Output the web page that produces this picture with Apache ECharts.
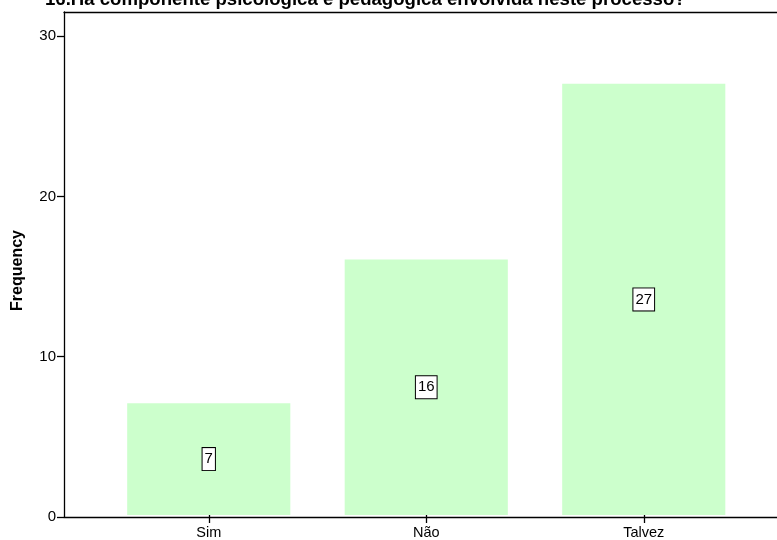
<!DOCTYPE html>
<html>
<head>
<meta charset="utf-8">
<style>
  html, body { margin: 0; padding: 0; background: #fff; }
  #chart { width: 777px; height: 540px; }
</style>
<script src="https://cdn.jsdelivr.net/npm/echarts@6/dist/echarts.min.js"></script>
</head>
<body>
<div id="chart"></div>
<script>
// dados
const categorias = ["Sim", "Não", "Talvez"];
const frequencias = [7, 16, 27];
const yMax = 31.5;

const chart = echarts.init(document.getElementById("chart"));
const fonte = "Arial, 'Liberation Sans', sans-serif";

chart.setOption({
  animation: false,
  title: {
    text: "16.Há componente psicológica e pedagógica envolvida neste processo?",
    left: 40,
    top: -15,
    textStyle: { fontFamily: fonte, fontWeight: "bold", fontSize: 18.6, color: "#000" }
  },
  grid: [
    // moldura / eixos
    { left: 64, top: 12, right: -5, bottom: 23 },
    // barras
    { left: 100, width: 652.5, top: 12, bottom: 23 }
  ],
  xAxis: [
    {
      gridIndex: 0, type: "value", min: 0, max: 1,
      axisLine: { show: true, lineStyle: { color: "#000", width: 1.3 } },
      axisTick: { show: false }, axisLabel: { show: false }, splitLine: { show: false }
    },
    {
      gridIndex: 0, type: "value", min: 0, max: 1, position: "top",
      axisLine: { show: true, lineStyle: { color: "#000", width: 1.3 } },
      axisTick: { show: false }, axisLabel: { show: false }, splitLine: { show: false }
    },
    {
      gridIndex: 1, type: "category", data: categorias,
      axisLine: { show: false },
      axisTick: { show: true, alignWithLabel: true, length: 8, lineStyle: { color: "#000", width: 1.3 } },
      axisLabel: { color: "#000", fontFamily: fonte, fontSize: 14.5, margin: 10 }
    }
  ],
  yAxis: [
    {
      gridIndex: 0, type: "value", min: 0, max: yMax, interval: 10,
      name: "Frequency", nameLocation: "middle", nameGap: 38,
      nameTextStyle: { fontFamily: fonte, fontWeight: "bold", fontSize: 16, color: "#000", padding: [0, 12, 0, 0] },
      axisLine: { show: true, lineStyle: { color: "#000", width: 1.3 } },
      axisTick: { show: true, length: 7, lineStyle: { color: "#000", width: 1.3 } },
      axisLabel: { color: "#000", fontFamily: fonte, fontSize: 15, margin: 8, showMaxLabel: false },
      splitLine: { show: false }
    },
    {
      gridIndex: 1, type: "value", min: 0, max: yMax,
      axisLine: { show: false }, axisTick: { show: false },
      axisLabel: { show: false }, splitLine: { show: false }
    }
  ],
  series: [
    {
      type: "bar",
      xAxisIndex: 2,
      yAxisIndex: 1,
      data: frequencias,
      barWidth: "75%",
      itemStyle: { color: "#ccffcc" },
      label: {
        show: true,
        position: "inside",
        color: "#000",
        fontFamily: fonte,
        fontSize: 15,
        backgroundColor: "#fff",
        borderColor: "#000",
        borderWidth: 1,
        padding: [4, 2, 3, 2]
      }
    }
  ]
});
</script>
</body>
</html>
